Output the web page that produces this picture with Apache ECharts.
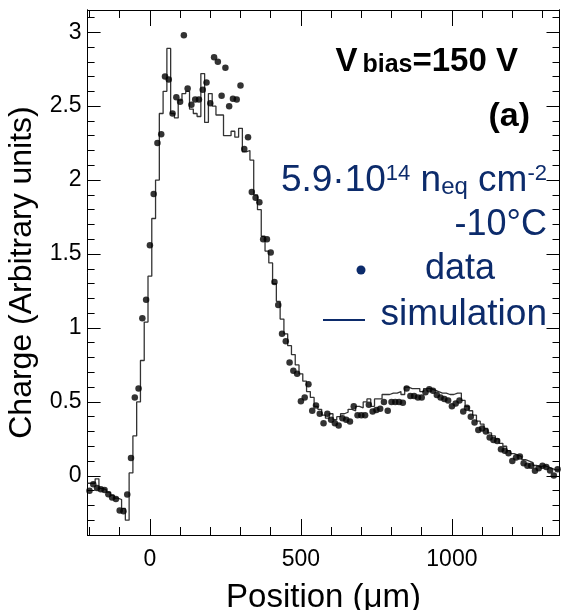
<!DOCTYPE html>
<html><head><meta charset="utf-8">
<script src="https://cdn.jsdelivr.net/npm/echarts@6/dist/echarts.min.js"></script>
<style>html,body{margin:0;padding:0;background:#fff}#c{width:563px;height:610px}</style>
</head><body><div id="c"></div>
<script>
// Positions (µm) of the readout strips / bin centres
const positions = [-200,-187.5,-175,-162.5,-150,-137.5,-125,-112.5,-100,-87.5,-75,-62.5,-50,-37.5,-25,-12.5,
  0,12.5,25,37.5,50,62.5,75,87.5,100,112.5,125,137.5,150,162.5,175,187.5,200,212.5,225,237.5,250,262.5,275,287.5,
  300,312.5,325,337.5,350,362.5,375,387.5,400,412.5,425,437.5,450,462.5,475,487.5,500,512.5,525,537.5,550,562.5,575,587.5,
  600,612.5,625,637.5,650,662.5,675,687.5,700,712.5,725,737.5,750,762.5,775,787.5,800,812.5,825,837.5,850,862.5,875,887.5,
  900,912.5,925,937.5,950,962.5,975,987.5,1000,1012.5,1025,1037.5,1050,1062.5,1075,1087.5,1100,1112.5,1125,1137.5,1150,1162.5,
  1175,1187.5,1200,1212.5,1225,1237.5,1250,1262.5,1275,1287.5,1300,1312.5,1325,1337.5,1350];
// Measured charge (data points)
const dataCharge = [-0.10,-0.056,-0.083,-0.09,-0.095,-0.124,-0.146,-0.157,-0.234,-0.24,-0.126,0.12,0.53,0.59,1.065,1.19,
  1.56,1.905,2.25,2.31,2.70,2.68,2.45,2.56,2.53,2.98,2.62,2.51,2.545,2.545,2.61,2.66,2.52,2.83,2.80,2.57,2.76,2.50,2.55,2.545,
  2.64,2.21,2.29,1.92,1.88,1.85,1.60,1.60,1.51,1.31,1.155,0.96,0.91,0.766,0.71,0.69,0.505,0.53,0.62,0.44,0.475,0.42,0.356,0.42,
  0.38,0.356,0.34,0.39,0.38,0.367,0.47,0.41,0.41,0.41,0.48,0.435,0.446,0.453,0.50,0.44,0.50,0.50,0.50,0.495,0.59,0.54,0.54,0.53,
  0.53,0.565,0.585,0.576,0.547,0.53,0.52,0.51,0.47,0.49,0.51,0.435,0.46,0.40,0.36,0.31,0.32,0.30,0.26,0.243,0.236,0.18,
  0.17,0.153,0.10,0.124,0.13,0.086,0.068,0.068,0.034,0.052,0.068,0.059,0.036,0.002,0.045];
// Simulated charge (histogram bin contents)
const simCharge = [-0.05,-0.05,-0.02,-0.085,-0.095,-0.11,-0.13,-0.15,-0.16,-0.22,-0.30,0.02,0.27,0.50,0.78,1.04,
  1.35,1.74,2.0,2.45,2.60,2.89,2.45,2.42,2.54,2.585,2.60,2.48,2.45,2.43,2.72,2.39,2.585,2.50,2.44,2.44,2.30,2.30,2.33,2.29,
  2.35,2.19,2.20,2.135,1.90,1.80,1.62,1.52,1.44,1.30,1.18,1.06,0.96,0.88,0.82,0.75,0.69,0.64,0.57,0.53,0.47,0.45,0.41,0.39,
  0.42,0.38,0.40,0.42,0.43,0.45,0.44,0.47,0.46,0.50,0.52,0.47,0.52,0.52,0.55,0.55,0.56,0.56,0.57,0.55,0.60,0.59,0.59,0.59,
  0.57,0.59,0.59,0.58,0.57,0.56,0.56,0.55,0.55,0.56,0.56,0.51,0.47,0.44,0.41,0.37,0.35,0.32,0.29,0.27,0.25,0.22,
  0.20,0.17,0.15,0.14,0.13,0.11,0.10,0.09,0.07,0.06,0.07,0.06,0.05,0.04,0.04];
const binWidth = 12.5;
const xRange = [-206.25, 1356.25];
const yRange = [-0.4, 3.15];
const xTickLabels = [0, 500, 1000];
const xMinorTicks = [-200,-100,0,100,200,300,400,500,600,700,800,900,1000,1100,1200,1300];
const yTickLabels = [0, 0.5, 1, 1.5, 2, 2.5, 3];
const yMinorTicks = [];
for (let k = -3; k <= 31; k++) yMinorTicks.push(Math.round(k) / 10);

const FONT = 'Liberation Sans, Arial, Helvetica, sans-serif';
const NAVY = '#0c2b6b';

// histogram outline from bin edges
const simLine = [];
positions.forEach((c, i) => {
  simLine.push([c - binWidth / 2, simCharge[i]]);
  simLine.push([c + binWidth / 2, simCharge[i]]);
});
const dataPts = positions.map((p, i) => [p, dataCharge[i]]);

function xAx(pos, ticks, len, extra) {
  return Object.assign({
    type: 'value', min: xRange[0], max: xRange[1], position: pos,
    axisLine: { show: true, onZero: false, lineStyle: { color: '#000', width: 1 } },
    axisTick: { show: true, inside: true, length: len, customValues: ticks, lineStyle: { color: '#000', width: 1 } },
    axisLabel: { show: false },
    splitLine: { show: false }
  }, extra || {});
}
function yAx(pos, ticks, len, extra) {
  return Object.assign({
    type: 'value', min: yRange[0], max: yRange[1], position: pos,
    axisLine: { show: true, onZero: false, lineStyle: { color: '#000', width: 1 } },
    axisTick: { show: true, inside: true, length: len, customValues: ticks, lineStyle: { color: '#000', width: 1 } },
    axisLabel: { show: false },
    splitLine: { show: false }
  }, extra || {});
}

const chart = echarts.init(document.getElementById('c'), null, { renderer: 'canvas' });
chart.setOption({
  animation: false,
  backgroundColor: '#fff',
  grid: { left: 87.6, right: 3.5, top: 10, bottom: 75, containLabel: false, outerBoundsMode: 'none' },
  xAxis: [
    xAx('bottom', xTickLabels, 16, {
      axisLabel: { show: true, customValues: xTickLabels, fontSize: 23, margin: 13, color: '#000', fontFamily: FONT,
        formatter: v => String(v) },
      name: 'Position (\u03bcm)', nameLocation: 'middle', nameGap: 46,
      nameTextStyle: { fontSize: 33, color: '#000', fontFamily: FONT }
    }),
    xAx('bottom', xMinorTicks, 8),
    xAx('top', xTickLabels, 16),
    xAx('top', xMinorTicks, 8)
  ],
  yAxis: [
    yAx('left', yTickLabels, 13, {
      axisLabel: { show: true, customValues: yTickLabels, fontSize: 23, margin: 6, color: '#000', fontFamily: FONT,
        formatter: v => String(v) },
      name: 'Charge (Arbitrary units)', nameLocation: 'middle', nameGap: 49,
      nameTextStyle: { fontSize: 32, color: '#000', fontFamily: FONT }
    }),
    yAx('left', yMinorTicks, 7),
    yAx('right', yTickLabels, 13),
    yAx('right', yMinorTicks, 7)
  ],
  series: [
    { type: 'line', name: 'simulation', data: simLine, xAxisIndex: 0, yAxisIndex: 0,
      showSymbol: false, symbol: 'none', lineStyle: { color: '#333', width: 1.3 }, z: 2 },
    { type: 'scatter', name: 'data', data: dataPts, xAxisIndex: 0, yAxisIndex: 0,
      symbol: 'circle', symbolSize: 6.5, itemStyle: { color: '#000' }, z: 3 }
  ],
  graphic: [
    { type: 'text', x: 518, y: 61.5, style: {
        text: '{v|V}{s|bias}{v|=150 V}', align: 'right', verticalAlign: 'middle',
        rich: {
          v: { fontSize: 33, fontWeight: 'bold', fontFamily: FONT, fill: '#000', lineHeight: 33 },
          s: { fontSize: 25, fontWeight: 'bold', fontFamily: FONT, fill: '#000', lineHeight: 8, verticalAlign: 'bottom', padding: [0, 0, 0, 5] }
        } } },
    { type: 'text', x: 530, y: 117, style: {
        text: '(a)', align: 'right', verticalAlign: 'middle',
        fontSize: 34, fontWeight: 'bold', fontFamily: FONT, fill: '#000' } },
    { type: 'text', x: 547, y: 181, style: {
        text: '{m|5.9\u00b710}{p|14}{m| n}{b|eq}{m| cm}{p|-2}', align: 'right', verticalAlign: 'middle',
        rich: {
          m: { fontSize: 37, fontFamily: FONT, fill: NAVY, lineHeight: 37 },
          p: { fontSize: 22, fontFamily: FONT, fill: NAVY, lineHeight: 25, verticalAlign: 'top' },
          b: { fontSize: 24, fontFamily: FONT, fill: NAVY, lineHeight: 14, verticalAlign: 'bottom' }
        } } },
    { type: 'text', x: 547, y: 225, style: {
        text: '-10\u00b0C', align: 'right', verticalAlign: 'middle',
        fontSize: 36, fontFamily: FONT, fill: NAVY } },
    { type: 'circle', shape: { cx: 361, cy: 270, r: 4.5 }, style: { fill: NAVY } },
    { type: 'text', x: 425, y: 269.5, style: {
        text: 'data', align: 'left', verticalAlign: 'middle',
        fontSize: 36, fontFamily: FONT, fill: NAVY } },
    { type: 'line', shape: { x1: 323, y1: 320, x2: 365, y2: 320 }, style: { stroke: NAVY, lineWidth: 1.8 } },
    { type: 'text', x: 547, y: 314.5, style: {
        text: 'simulation', align: 'right', verticalAlign: 'middle',
        fontSize: 37, fontFamily: FONT, fill: NAVY } }
  ]
});
</script>
</body></html>
